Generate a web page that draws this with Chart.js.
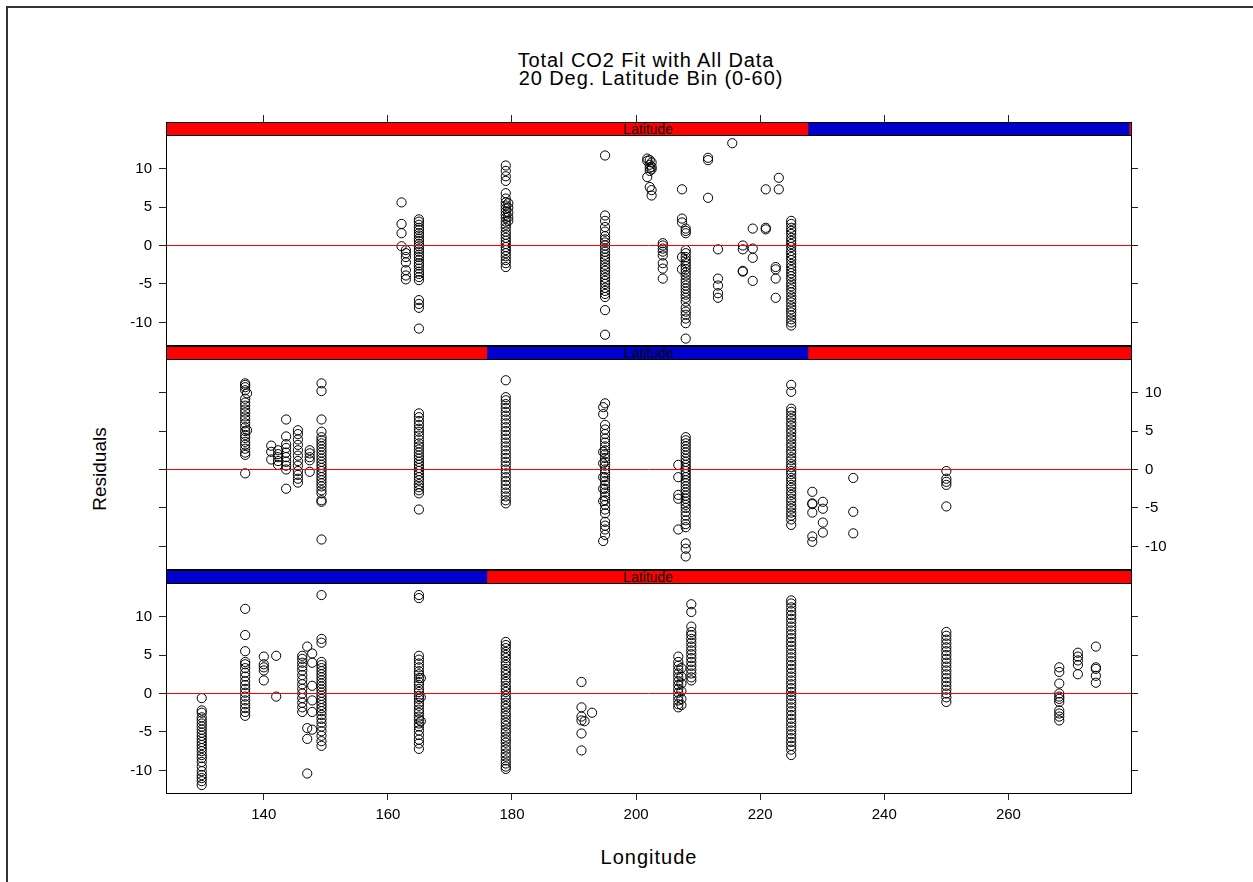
<!DOCTYPE html>
<html>
<head>
<meta charset="utf-8">
<title>Total CO2 Fit with All Data</title>
<script src="https://cdn.jsdelivr.net/npm/chart.js@4.4.1/dist/chart.umd.min.js"></script>
<style>
  body { margin: 0; width: 1253px; height: 882px; overflow: hidden; background: #fff; position: relative;
         font-family: "Liberation Sans", Arial, Helvetica, sans-serif; }
  .frame { position: absolute; left: 6px; top: 6px; width: 1400px; height: 1000px; border: 2px solid #333; }
  canvas { position: absolute; left: 0; }
  .txt { position: absolute; white-space: nowrap; color: #000; line-height: 20px; }
</style>
</head>
<body>
<div class="frame"></div>
<div class="txt" style="left:646px; top:50px; font-size:20px; letter-spacing:0.9px; transform:translateX(-50%);">Total CO2 Fit with All Data</div>
<div class="txt" style="left:651px; top:68px; font-size:20px; letter-spacing:0.9px; transform:translateX(-50%);">20 Deg. Latitude Bin (0-60)</div>
<div class="txt" style="left:100px; top:469px; font-size:19px; transform:translate(-50%,-50%) rotate(-90deg);">Residuals</div>
<div class="txt" style="left:649px; top:847px; font-size:20px; letter-spacing:1px; transform:translateX(-50%);">Longitude</div>
<canvas id="panelTop"></canvas>
<canvas id="panelMid"></canvas>
<canvas id="panelBot"></canvas>
<script>
// axis ranges and ticks
const xRange = [124.24, 279.76];
const yRange = [-12.935, 14.365];
const xTicks = [140, 160, 180, 200, 220, 240, 260];
const yTicks = [-10, -5, 0, 5, 10];

// latitude shingle (0-60), one bin per panel
const latRange = [0, 60.1];
const latTop = [40, 60];
const latMid = [20, 40];
const latBot = [0, 20];

// residuals by longitude, latitude 40-60
const resTop = [
  [162.2, [5.6, 2.8, 1.6, -0.1]],
  [162.9, [-0.6, -1.0, -1.5, -2.2, -3.2, -3.9, -4.4]],
  [165.0, [3.4, 3.1, 2.7, 2.3, 2.0, 1.6, 1.3, 0.9, 0.6, 0.2, -0.1, -0.5, -0.8, -1.2, -1.5, -1.9, -2.3, -2.6, -3.0, -3.4, -3.7, -4.1, -4.5, -7.1, -7.6, -8.1, -10.8]],
  [179.0, [10.4, 9.7, 9.0, 8.4, 6.8, 6.1, 5.6, 5.2, 4.8, 4.4, 4.0, 3.6, 3.1, 2.7, 2.3, 1.8, 1.4, 1.0, 0.6, 0.2, -0.2, -0.6, -1.0, -1.4, -1.9, -2.3, -2.8]],
  [179.4, [5.5, 4.9, 4.3, 3.7, 3.2]],
  [195.0, [11.7, 3.9, 3.2, 2.4, 1.8, 1.2, 0.8, 0.4, 0.0, -0.4, -0.8, -1.2, -1.6, -2.0, -2.5, -2.9, -3.3, -3.8, -4.2, -4.6, -5.0, -5.5, -5.9, -6.3, -6.7, -8.4, -11.6]],
  [201.8, [11.3, 11.0, 8.9]],
  [202.2, [11.1, 10.5, 10.1, 9.7, 7.6]],
  [202.5, [10.8, 10.2, 9.9, 7.2, 6.5]],
  [204.3, [0.3, 0.0, -0.4, -0.8, -1.3, -2.3, -3.0, -4.3]],
  [207.4, [7.3, 3.5, 3.0, -1.5, -3.1]],
  [208.0, [2.2, 1.9, 1.6, -0.6, -1.0, -1.5, -1.9, -2.3, -2.7, -3.1, -3.5, -3.9, -4.4, -4.8, -5.2, -5.6, -6.0, -6.4, -6.8, -7.3, -8.1, -8.6, -9.0, -9.5, -10.1, -12.1]],
  [211.6, [11.4, 11.1, 6.2]],
  [213.2, [-0.5, -4.3, -5.2, -6.2, -6.8]],
  [215.5, [13.3]],
  [217.2, [0.0, -0.5, -3.3, -3.4]],
  [218.8, [2.2, -0.4, -1.6, -4.6]],
  [220.9, [7.3, 2.3, 2.1]],
  [222.5, [-2.8, -3.1, -4.3, -6.8]],
  [223.0, [8.8, 7.3]],
  [225.0, [3.2, 2.8, 2.3, 1.9, 1.5, 1.0, 0.6, 0.2, -0.2, -0.7, -1.1, -1.5, -1.9, -2.4, -2.8, -3.2, -3.6, -4.0, -4.4, -4.9, -5.3, -5.7, -6.1, -6.6, -7.0, -7.4, -7.9, -8.3, -8.7, -9.1, -9.6, -10.0, -10.4]]
];

// latitude 20-40
const resMid = [
  [137.0, [11.2, 11.0, 10.7, 10.3, 9.2, 8.7, 8.3, 7.8, 7.4, 6.9, 6.5, 6.0, 5.5, 5.0, 4.5, 4.1, 3.6, 3.2, 2.7, 2.2, 1.9, -0.5]],
  [137.3, [9.9, 5.1]],
  [141.2, [3.1, 2.3, 1.3]],
  [142.3, [2.5, 2.0, 1.6, 1.1, 0.6]],
  [143.6, [6.5, 4.3, 3.3, 2.8, 2.2, 1.6, 1.0, 0.5, 0.0, -2.5]],
  [145.5, [5.1, 4.6, 3.9, 3.2, 2.5, 1.8, 1.1, 0.5, -0.2, -0.7, -1.2, -1.7]],
  [147.4, [2.5, 2.1, 1.6, 1.2, -0.3]],
  [149.3, [11.2, 10.2, 6.5, 4.9, 4.2, 3.8, 3.4, 3.0, 2.6, 2.2, 1.8, 1.4, 1.0, 0.6, 0.2, -0.2, -0.6, -1.0, -1.4, -1.8, -2.2, -2.7, -3.1, -4.0, -4.2, -9.1]],
  [165.0, [7.3, 6.8, 6.3, 5.8, 5.3, 4.9, 4.4, 3.9, 3.4, 3.0, 2.6, 2.2, 1.8, 1.4, 1.0, 0.6, 0.2, -0.2, -0.6, -1.0, -1.4, -1.9, -2.3, -2.7, -3.1, -5.2]],
  [179.0, [11.6, 9.4, 9.0, 8.5, 8.0, 7.5, 7.0, 6.5, 6.0, 5.5, 5.0, 4.5, 4.0, 3.5, 3.0, 2.5, 2.0, 1.5, 1.0, 0.5, 0.0, -0.5, -1.0, -1.5, -2.0, -2.5, -3.0, -3.5, -4.0, -4.4]],
  [194.7, [8.1, 7.2, 2.3, 0.8, -1.0, -2.5, -4.1, -9.3]],
  [195.0, [8.6, 5.8, 5.2, 4.6, 4.0, 3.5, 3.0, 2.5, 2.0, 1.5, 1.0, 0.5, 0.0, -0.5, -1.0, -1.5, -2.0, -2.5, -3.0, -3.5, -4.0, -4.6, -5.2, -5.7, -6.8, -7.3, -7.8, -8.5]],
  [206.8, [0.6, -1.0, -3.3, -3.8, -7.8]],
  [208.0, [4.2, 3.8, 3.4, 3.0, 2.6, 2.2, 1.8, 1.4, 1.0, 0.6, 0.2, -0.2, -0.6, -1.0, -1.4, -1.8, -2.2, -2.6, -3.0, -3.4, -3.8, -4.2, -4.6, -5.0, -5.5, -6.0, -6.6, -7.1, -7.5, -9.6, -10.3, -11.3]],
  [225.0, [11.0, 10.1, 7.9, 7.5, 7.0, 6.6, 6.1, 5.7, 5.2, 4.8, 4.3, 3.9, 3.4, 3.0, 2.5, 2.1, 1.6, 1.2, 0.7, 0.3, -0.2, -0.6, -1.1, -1.5, -2.0, -2.4, -2.9, -3.3, -3.8, -4.2, -4.7, -5.1, -5.6, -6.0, -6.5, -7.2]],
  [228.4, [-2.9, -4.4, -4.5, -5.6, -8.7, -9.4]],
  [230.1, [-4.2, -5.1, -6.9, -8.2]],
  [235.0, [-1.1, -5.5, -8.3]],
  [250.0, [-0.2, -1.2, -1.6, -2.0, -4.8]]
];

// latitude 0-20
const resBot = [
  [130.0, [-0.6, -2.2, -2.5, -3.1, -3.5, -3.9, -4.3, -4.7, -5.1, -5.5, -5.9, -6.3, -6.7, -7.1, -7.5, -8.0, -8.4, -8.9, -9.5, -10.1, -10.6, -11.0, -11.4, -11.9]],
  [137.0, [11.0, 7.6, 5.5, 4.1, 3.8, 3.3, 2.7, 2.2, 1.6, 1.1, 0.6, 0.1, -0.4, -0.9, -1.4, -1.9, -2.4, -2.9]],
  [140.0, [4.8, 3.8, 3.4, 3.0, 1.7]],
  [142.0, [4.9, -0.4]],
  [146.2, [4.9, 4.5, 4.0, 3.5, 3.0, 2.4, 1.8, 1.2, 0.6, 0.0, -0.6, -1.2, -1.8, -2.4]],
  [147.0, [6.1, -4.5, -5.9, -10.4]],
  [147.8, [5.2, 4.0, 1.0, -0.9, -2.4, -4.7]],
  [149.3, [12.8, 7.1, 6.6, 4.1, 3.7, 3.3, 2.9, 2.5, 2.1, 1.7, 1.3, 0.9, 0.5, 0.1, -0.3, -0.7, -1.1, -1.5, -1.9, -2.3, -2.8, -3.3, -3.8, -4.3, -4.9, -5.5, -6.2, -6.8]],
  [165.0, [12.8, 12.4, 4.9, 4.4, 3.9, 3.4, 2.9, 2.5, 2.0, 1.5, 1.1, 0.6, 0.2, -0.3, -0.7, -1.2, -1.6, -2.1, -2.5, -3.0, -3.4, -3.9, -4.3, -4.8, -5.4, -6.0, -6.5, -7.2]],
  [165.3, [2.0, -0.5, -3.6]],
  [179.0, [6.7, 6.3, 5.9, 5.4, 5.0, 4.6, 4.1, 3.7, 3.2, 2.8, 2.4, 1.9, 1.5, 1.0, 0.6, 0.2, -0.3, -0.7, -1.2, -1.6, -2.0, -2.5, -2.9, -3.4, -3.8, -4.2, -4.7, -5.1, -5.6, -6.0, -6.4, -6.9, -7.3, -7.8, -8.2, -8.7, -9.1, -9.5, -9.8]],
  [191.2, [1.5, -1.8, -3.0, -3.5, -5.2, -7.4]],
  [191.7, [-3.6]],
  [192.9, [-2.5]],
  [206.8, [4.8, 4.1, 3.6, 3.1, 2.6, 2.1, 1.6, 1.1, 0.6, 0.1, -0.4, -0.9, -1.4, -1.8]],
  [207.3, [3.3, 2.2, 1.3, 0.3, -0.7, -1.5]],
  [208.9, [11.6, 10.6, 8.7, 8.0, 7.6, 7.1, 6.6, 6.1, 5.6, 5.1, 4.6, 4.1, 3.6, 3.1, 2.6, 2.1, 1.7]],
  [225.0, [12.1, 11.7, 11.2, 10.7, 10.2, 9.7, 9.2, 8.7, 8.2, 7.7, 7.2, 6.7, 6.2, 5.7, 5.2, 4.7, 4.2, 3.7, 3.2, 2.7, 2.2, 1.7, 1.2, 0.7, 0.2, -0.3, -0.8, -1.3, -1.8, -2.3, -2.8, -3.3, -3.8, -4.3, -4.8, -5.3, -5.8, -6.3, -6.8, -7.3, -8.0]],
  [250.0, [8.0, 7.5, 7.0, 6.5, 6.0, 5.5, 5.0, 4.5, 4.0, 3.5, 3.0, 2.5, 2.0, 1.5, 1.0, 0.5, 0.0, -0.5, -1.1]],
  [268.2, [3.4, 2.8, 1.3, 0.0, -0.4, -0.7, -1.1, -2.2, -2.6, -3.0, -3.5]],
  [271.2, [5.3, 4.8, 4.3, 3.7, 2.5]],
  [274.1, [6.1, 3.4, 3.2, 2.3, 1.4]]
];

const FONT = '"Liberation Sans", Arial, Helvetica, sans-serif';
const panelH = 210;   // data part of each panel, px
const stripH = 13;    // shingle strip above it, px

function toPoints(groups) {
  const pts = [];
  groups.forEach(function (g) {
    g[1].forEach(function (v) { pts.push({ x: g[0], y: v }); });
  });
  return pts;
}

// shingle strip + panel box
const stripPlugin = {
  id: "strip",
  afterDraw(chart, args, o) {
    const ctx = chart.ctx, a = chart.chartArea;
    const yb = chart.scales.y.getPixelForValue(yRange[1]);
    const w = a.right - a.left;
    const fx = v => a.left + w * (v - latRange[0]) / (latRange[1] - latRange[0]);
    ctx.save();
    ctx.fillStyle = "#ff0000";
    ctx.fillRect(a.left, a.top, w, yb - a.top);
    ctx.fillStyle = "#0000cc";
    ctx.fillRect(fx(o.bin[0]), a.top, fx(o.bin[1]) - fx(o.bin[0]), yb - a.top);
    ctx.strokeStyle = "#000";
    ctx.lineWidth = 1;
    ctx.strokeRect(a.left + 0.5, a.top + 0.5, w, yb - a.top);
    ctx.strokeRect(a.left + 0.5, a.top + 0.5, w, a.bottom - a.top);
    ctx.fillStyle = "#000";
    ctx.font = "14px " + FONT;
    ctx.textAlign = "center";
    ctx.textBaseline = "alphabetic";
    ctx.fillText("Latitude", (a.left + a.right) / 2, yb - 1.5);
    ctx.restore();
  }
};

function yAxis(pos, labels) {
  return {
    type: "linear",
    position: pos,
    min: yRange[0],
    max: yRange[1] + stripH * (yRange[1] - yRange[0]) / panelH,
    afterBuildTicks: s => { s.ticks = yTicks.map(v => ({ value: v })); },
    afterFit: s => { s.width = pos === "left" ? 166 : 1253 - 1131; },
    grid: { drawOnChartArea: false, drawTicks: true, tickLength: 7, color: "#222" },
    border: { color: "#000" },
    ticks: { display: labels, padding: 7, color: "#000", font: { family: FONT, size: 15 }, callback: v => String(v) }
  };
}

function makePanel(id, stripTop, groups, bin, opt) {
  const cv = document.getElementById(id);
  cv.width = 1253;
  cv.height = 320;
  cv.style.top = (stripTop - 40) + "px";

  const x = { type: "linear", min: xRange[0], max: xRange[1], display: false };
  if (opt.xAxis) {
    Object.assign(x, {
      display: true,
      position: opt.xAxis,
      afterBuildTicks: s => { s.ticks = xTicks.map(v => ({ value: v })); },
      afterFit: s => { s.height = opt.xAxis === "top" ? 40 : 57; },
      grid: { drawOnChartArea: false, drawTicks: true, tickLength: 7, color: "#222" },
      border: { color: "#000" },
      ticks: { display: opt.xAxis === "bottom", padding: 6, color: "#000", maxRotation: 0, font: { family: FONT, size: 15 } }
    });
  }

  return new Chart(cv, {
    type: "scatter",
    data: {
      datasets: [
        {
          type: "line",
          data: [{ x: xRange[0], y: 0 }, { x: xRange[1], y: 0 }],
          borderColor: "#ff0000",
          borderWidth: 1,
          pointRadius: 0,
          showLine: true
        },
        {
          data: toPoints(groups),
          pointStyle: "circle",
          pointRadius: 4.6,
          borderColor: "#000",
          borderWidth: 1,
          backgroundColor: "rgba(0,0,0,0)"
        }
      ]
    },
    options: {
      responsive: false,
      animation: false,
      devicePixelRatio: 1,
      layout: {
        autoPadding: false,
        padding: { left: 0, right: 0, top: opt.xAxis === "top" ? 0 : 40, bottom: opt.xAxis === "bottom" ? 0 : 57 }
      },
      plugins: {
        legend: { display: false },
        tooltip: { enabled: false },
        strip: { bin: bin }
      },
      scales: {
        x: x,
        y: yAxis("left", opt.labelsLeft),
        y2: yAxis("right", !opt.labelsLeft)
      }
    },
    plugins: [stripPlugin]
  });
}

makePanel("panelTop", 122, resTop, latTop, { xAxis: "top", labelsLeft: true });
makePanel("panelMid", 346, resMid, latMid, { xAxis: null, labelsLeft: false });
makePanel("panelBot", 570, resBot, latBot, { xAxis: "bottom", labelsLeft: true });
</script>
</body>
</html>
